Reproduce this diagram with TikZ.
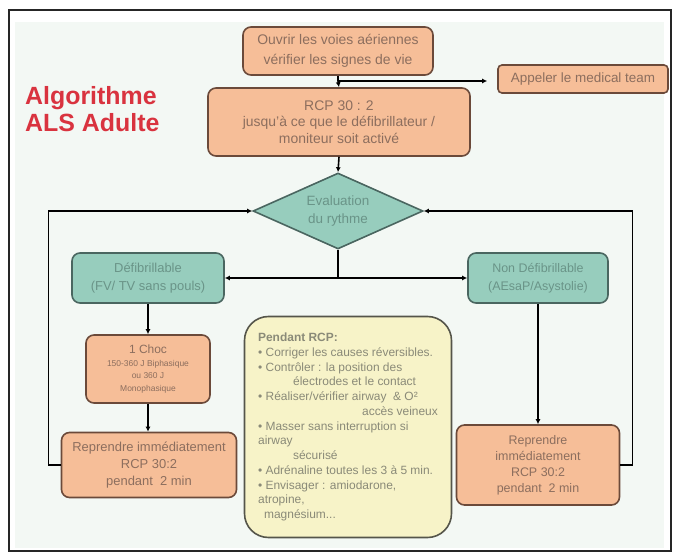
\documentclass[tikz,border=0pt]{standalone}
\usepackage{fontspec}
\setmainfont{Liberation Sans}
\usetikzlibrary{shapes.geometric,arrows.meta}

\definecolor{orangeboite}{HTML}{F6BE98}
\definecolor{bordorange}{HTML}{6B4A3A}
\definecolor{texteorange}{HTML}{8C6E5E}
\definecolor{vertboite}{HTML}{97CDBD}
\definecolor{bordvert}{HTML}{4A6660}
\definecolor{textevert}{HTML}{6A9488}
\definecolor{jauneboite}{HTML}{F7F3C8}
\definecolor{bordjaune}{HTML}{55554A}
\definecolor{textejaune}{HTML}{8A8A78}
\definecolor{rougetitre}{HTML}{D9333F}
\definecolor{fondclair}{HTML}{F3F8F4}

\begin{document}
\begin{tikzpicture}[x=1bp,y=-1bp,
    boite/.style={draw=bordorange, fill=orangeboite, line width=1.6bp, rounded corners=8bp,
        align=center, text=texteorange, inner sep=2bp},
    boitev/.style={draw=bordvert, fill=vertboite, line width=1.6bp, rounded corners=8bp,
        align=center, text=textevert, inner sep=2bp},
    losange/.style={diamond, aspect=2.2, draw=bordvert, fill=vertboite, line width=1.6bp,
        align=center, text=textevert, inner sep=1bp},
    trait/.style={line width=1.6bp, black},
    fleche/.style={trait, -{Latex[length=5bp,width=5bp]}}]

	\useasboundingbox (0,0) rectangle (678,559);
	\fill[white] (0,0) rectangle (678,559);
	\fill[fondclair] (15,22) rectangle (664,548);
	\draw[line width=2.5bp, black!85] (9,10) rectangle (671,551);

	% titre
	\node[anchor=north west, inner sep=0, align=left, text=rougetitre,
	      font=\fontsize{25}{27}\selectfont\bfseries] (titre) at (25,86) {Algorithme\\ALS Adulte};

	% colonne du haut
	\node[boite, minimum width=190bp, minimum height=48bp, font=\fontsize{14}{20}\selectfont]
	    (ouvrir) at (338,51) {Ouvrir les voies aériennes\\vérifier les signes de vie};
	\node[boite, rounded corners=4bp, minimum width=170bp, minimum height=28bp, font=\fontsize{13.5}{16}\selectfont]
	    (appel) at (583,79) {Appeler le medical team};
	\node[boite, minimum width=262bp, minimum height=68bp, font=\fontsize{14}{16.5}\selectfont]
	    (rcp) at (339,122) {RCP 30 : 2\\jusqu'à ce que le défibrillateur /\\moniteur soit activé};
	\node[losange, minimum width=170bp, minimum height=76bp, font=\fontsize{13.5}{18}\selectfont]
	    (eval) at (338,211) {Evaluation\\du rythme};

	% deux branches
	\node[boitev, minimum width=152bp, minimum height=50bp, font=\fontsize{13}{18}\selectfont]
	    (defib) at (148,278) {Défibrillable\\(FV/ TV sans pouls)};
	\node[boitev, minimum width=140bp, minimum height=50bp, font=\fontsize{12.5}{18}\selectfont]
	    (nondef) at (538,278) {Non Défibrillable\\(AEsaP/Asystolie)};
	\node[boite, minimum width=124bp, minimum height=68bp, font=\fontsize{8.5}{12.5}\selectfont]
	    (choc) at (148,369) {{\fontsize{12}{14}\selectfont 1 Choc}\\150-360 J Biphasique\\ou 360 J\\Monophasique};
	\node[boite, minimum width=175bp, minimum height=65bp, font=\fontsize{13}{17}\selectfont]
	    (repG) at (149,465) {Reprendre immédiatement\\RCP 30:2\\pendant \ 2 min};
	\node[boite, minimum width=163bp, minimum height=80bp, font=\fontsize{12.5}{16}\selectfont]
	    (repD) at (538,465) {Reprendre\\immédiatement\\RCP 30:2\\pendant \ 2 min};

	% encadré central
	\node[draw=bordjaune, fill=jauneboite, line width=1.6bp, rounded corners=24bp, align=left,
	      text=textejaune, minimum width=207bp, minimum height=221bp, font=\fontsize{12}{14.8}\selectfont]
	    (pendant) at (348,427) {{\bfseries Pendant RCP:}\\
	    • Corriger les causes réversibles.\\
	    • Contrôler : la position des\\
	    \hspace*{35bp}électrodes et le contact\\
	    • Réaliser/vérifier airway \ \& O²\\
	    \hspace*{104bp}accès veineux\\
	    • Masser sans interruption si\\
	    airway\\
	    \hspace*{35bp}sécurisé\\
	    • Adrénaline toutes les 3 à 5 min.\\
	    • Envisager : amiodarone,\\
	    atropine,\\
	    \hspace*{6bp}magnésium...};

	% connexions
	\coordinate (jonction) at (338,81);
	\coordinate (partage) at (338,278);
	\draw[trait] (ouvrir.south) -- (jonction);
	\draw[fleche] (jonction) -- (rcp.north);
	\draw[fleche, shorten >=10bp] (jonction) -- (jonction -| appel.west);
	\draw[fleche] (rcp.south) -- (eval.north);
	\draw[trait] (eval.south) -- (partage);
	\draw[fleche] (partage) -- (defib.east);
	\draw[fleche] (partage) -- (nondef.west);
	\draw[fleche] (defib.south) -- (choc.north);
	\draw[fleche] (choc.south) -- (repG.north -| choc.south);
	\draw[fleche] (nondef.south) -- (repD.north);
	\draw[fleche] (repG.west) -- ++(-12,0) |- (eval.west);
	\draw[fleche] (repD.east) -- ++(12,0) |- (eval.east);
\end{tikzpicture}
\end{document}
